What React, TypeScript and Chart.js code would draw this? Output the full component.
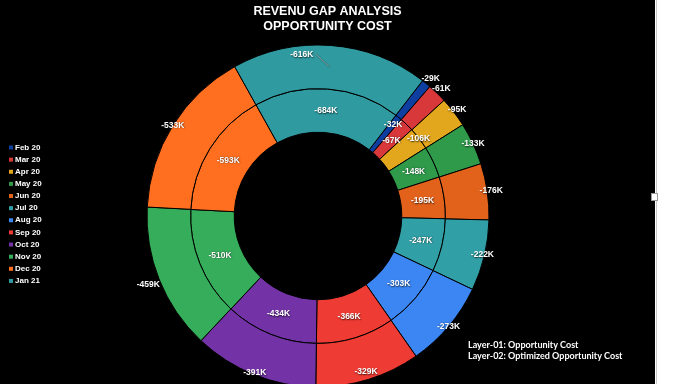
import React, { useEffect, useRef } from 'react';
import { Chart, registerables } from 'chart.js';

Chart.register(...registerables);

const months = ['Feb 20', 'Mar 20', 'Apr 20', 'May 20', 'Jun 20', 'Jul 20', 'Aug 20', 'Sep 20', 'Oct 20', 'Nov 20', 'Dec 20', 'Jan 21'];
const opportunityCost = [-29, -61, -95, -133, -176, -222, -273, -329, -391, -459, -533, -616];
const optimizedCost = [-32, -67, -106, -148, -195, -247, -303, -366, -434, -510, -593, -684];
const sliceColors = ['#0E3FA0', '#D8383A', '#E3A71E', '#2E9A4A', '#E2621C', '#31A0A6', '#3B86F3', '#EE3B33', '#7333A6', '#36AD5A', '#FF6F1F', '#2F9BA1'];
const titleLines = ['REVENU GAP ANALYSIS', 'OPPORTUNITY COST'];
const layerNotes = ['Layer-01: Opportunity Cost', 'Layer-02: Optimized Opportunity Cost'];

const W = 655;
const H = 384;

const fmtK = (v: number) => `${v}K`;

const titlePlugin = {
  id: 'titleText',
  afterDraw(chart: any) {
    const ctx = chart.ctx;
    ctx.save();
    ctx.fillStyle = '#fff';
    ctx.font = 'bold 12.5px "Liberation Sans", Arial, sans-serif';
    ctx.textAlign = 'center';
    ctx.textBaseline = 'middle';
    titleLines.forEach((t, i) => ctx.fillText(t, W / 2, 12 + i * 14.5));
    ctx.restore();
  },
};

const legendPlugin = {
  id: 'leftLegend',
  afterDraw(chart: any) {
    const ctx = chart.ctx;
    ctx.save();
    ctx.font = 'bold 8px "Liberation Sans", Arial, sans-serif';
    ctx.textAlign = 'left';
    ctx.textBaseline = 'middle';
    months.forEach((m, i) => {
      const y = 147.5 + i * 12.13;
      ctx.fillStyle = sliceColors[i];
      ctx.fillRect(9, y - 2, 4, 4);
      ctx.fillStyle = '#fff';
      ctx.fillText(m, 15, y);
    });
    ctx.restore();
  },
};

const noteP = {
  id: 'layerNotes',
  afterDraw(chart: any) {
    const ctx = chart.ctx;
    ctx.save();
    ctx.font = 'bold 9px Lato, "Open Sans", sans-serif';
    ctx.fillStyle = '#fff';
    ctx.textAlign = 'left';
    ctx.textBaseline = 'middle';
    layerNotes.forEach((t, i) => ctx.fillText(t, 468, 345.5 + i * 11));
    ctx.restore();
  },
};

const outerShift = [7, 6, 4, 0, 4, -2, 0, -8, -2, 12, 0, 0];
const innerShift = [13, 0, 21, 0, 0, 0, 0, 0, 0, 0, 0, 0];

const labelPlugin = {
  id: 'sliceLabels',
  afterDatasetsDraw(chart: any) {
    const ctx = chart.ctx;
    ctx.save();
    ctx.font = 'bold 8.5px "Liberation Sans", Arial, sans-serif';
    ctx.textAlign = 'center';
    ctx.textBaseline = 'middle';
    chart.data.datasets.forEach((ds: any, di: number) => {
      const meta = chart.getDatasetMeta(di);
      meta.data.forEach((arc: any, i: number) => {
        const p = arc.getProps(['x', 'y', 'startAngle', 'endAngle', 'innerRadius', 'outerRadius'], true);
        const mid = (p.startAngle + p.endAngle) / 2;
        const text = fmtK(ds.data[i]);
        let ang = mid;
        let r: number;
        if (di === 0) {
          r = p.outerRadius + outerShift[i];
          if (i === ds.data.length - 1) {
            ang = mid - (10 * Math.PI) / 180;
            r = p.outerRadius - 9;
          }
        } else {
          r = (p.innerRadius + p.outerRadius) / 2 + innerShift[i];
        }
        const lx = p.x + Math.cos(ang) * r;
        const ly = p.y + Math.sin(ang) * r;
        if (di === 0 && i === ds.data.length - 1) {
          const w = ctx.measureText(text).width;
          ctx.save();
          ctx.strokeStyle = '#a0a0a0';
          ctx.lineWidth = 0.8;
          ctx.beginPath();
          ctx.moveTo(lx + w / 2 + 2, ly - 1);
          ctx.lineTo(p.x + Math.cos(mid) * (p.outerRadius - 21), p.y + Math.sin(mid) * (p.outerRadius - 21));
          ctx.stroke();
          ctx.restore();
        }
        ctx.shadowColor = 'rgba(0,0,0,0.7)';
        ctx.shadowBlur = 1.5;
        ctx.shadowOffsetX = 0.5;
        ctx.shadowOffsetY = 0.5;
        ctx.fillStyle = '#fff';
        ctx.fillText(text, lx, ly);
      });
    });
    ctx.restore();
  },
};

export default function App() {
  const ref = useRef<HTMLCanvasElement>(null);
  useEffect(() => {
    const chart = new Chart(ref.current as HTMLCanvasElement, {
      type: 'doughnut',
      data: {
        labels: months,
        datasets: [
          { label: 'Opportunity Cost', data: opportunityCost, backgroundColor: sliceColors, borderColor: '#000', borderWidth: 1 },
          { label: 'Optimized Opportunity Cost', data: optimizedCost, backgroundColor: sliceColors, borderColor: '#000', borderWidth: 1 },
        ],
      },
      options: {
        responsive: false,
        animation: false,
        rotation: 37.7,
        cutout: '49%',
        radius: 171,
        events: [],
        layout: { padding: { left: 0, right: 19, top: 48, bottom: 0 } },
        plugins: { legend: { display: false }, title: { display: false }, tooltip: { enabled: false } },
      } as any,
      plugins: [titlePlugin, legendPlugin, labelPlugin, noteP],
    });
    return () => chart.destroy();
  }, []);

  return (
    <div style={{ position: 'fixed', left: 0, top: 0, width: 680, height: 384, background: '#fff', overflow: 'hidden' }}>
      <div style={{ position: 'absolute', left: 0, top: 0, width: W, height: H, background: '#000' }}>
        <canvas ref={ref} width={W} height={H} style={{ display: 'block', width: W, height: H }} />
      </div>
      <div style={{ position: 'absolute', left: 656, top: 0, width: 1, height: 384, background: '#c8c8c8' }} />
      <div style={{ position: 'absolute', left: 651, top: 193, width: 5, height: 6, background: '#fff', border: '1px solid #999' }} />
    </div>
  );
}
